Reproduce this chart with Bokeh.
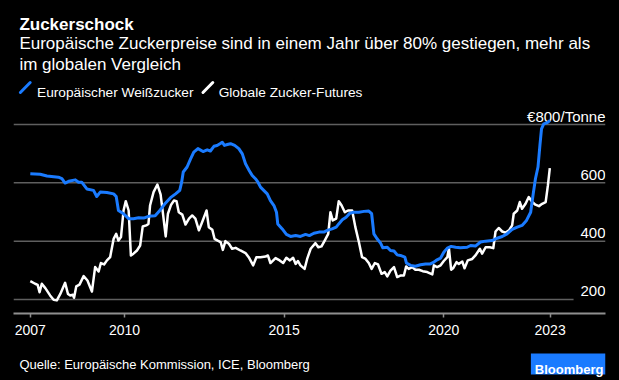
from bokeh.plotting import figure
from bokeh.layouts import column
from bokeh.models import Range1d, FixedTicker
from bokeh.core.properties import value
from bokeh.embed import file_html
from bokeh.resources import INLINE

# ---------------- data ----------------
title = "Zuckerschock"
subtitle = ["Europäische Zuckerpreise sind in einem Jahr über 80% gestiegen, mehr als",
            "im globalen Vergleich"]
legend_labels = ["Europäischer Weißzucker", "Globale Zucker-Futures"]
source_text = "Quelle: Europäische Kommission, ICE, Bloomberg"
brand = "Bloomberg"

x_tick_labels = ["2007", "2010", "2015", "2020", "2023"]
x_mid_ticks = [2010, 2015, 2020]
y_ticks = [200, 400, 600, 800]
y_tick_labels = ["200", "400", "600", "€800/Tonne"]

# European white sugar, EUR/t (decimal years)
eu_dates = [2007.05, 2007.36, 2007.57, 2007.93, 2008.04, 2008.14, 2008.25, 2008.46, 2008.56, 2008.66,
            2008.82, 2009.03, 2009.13, 2009.24, 2009.45, 2009.66, 2009.74, 2009.81, 2009.97, 2010.13,
            2010.28, 2010.44, 2010.60, 2010.75, 2010.96, 2011.12, 2011.28, 2011.44, 2011.60, 2011.73,
            2011.79, 2011.84, 2011.96, 2012.07, 2012.17, 2012.30, 2012.46, 2012.59, 2012.69, 2012.80,
            2012.90, 2012.99, 2013.06, 2013.13, 2013.22, 2013.32, 2013.45, 2013.58, 2013.69, 2013.79,
            2013.89, 2014.00, 2014.10, 2014.18, 2014.26, 2014.36, 2014.47, 2014.57, 2014.68, 2014.76,
            2014.80, 2014.94, 2015.07, 2015.20, 2015.36, 2015.51, 2015.67, 2015.79, 2015.93, 2016.09,
            2016.24, 2016.35, 2016.50, 2016.63, 2016.71, 2016.82, 2016.94, 2017.06, 2017.18, 2017.34,
            2017.50, 2017.65, 2017.74, 2017.81, 2017.91, 2018.02, 2018.09, 2018.23, 2018.33, 2018.44,
            2018.54, 2018.64, 2018.78, 2018.83, 2018.96, 2019.11, 2019.27, 2019.43, 2019.58, 2019.69,
            2019.79, 2019.90, 2020.00, 2020.11, 2020.23, 2020.37, 2020.52, 2020.73, 2020.84, 2020.99,
            2021.15, 2021.31, 2021.51, 2021.67, 2021.83, 2021.98, 2022.14, 2022.30, 2022.45, 2022.59,
            2022.72, 2022.80, 2022.87, 2022.95, 2023.01, 2023.06, 2023.13, 2023.24, 2023.33]
eu_price = [631, 629, 623, 619, 614, 599, 605, 610, 602, 602,
            579, 574, 553, 568, 567, 562, 553, 505, 494, 477,
            477, 480, 479, 485, 487, 507, 530, 549, 562, 574,
            602, 637, 654, 682, 705, 717, 707, 713, 709, 725,
            728, 734, 739, 728, 731, 734, 728, 717, 699, 665,
            645, 625, 614, 602, 585, 574, 562, 539, 522, 499,
            459, 442, 423, 416, 419, 416, 423, 419, 427, 431,
            431, 437, 442, 448, 459, 473, 482, 496, 499, 499,
            502, 503, 494, 425, 408, 393, 377, 379, 368, 366,
            353, 351, 345, 325, 317, 314, 319, 322, 322, 328,
            336, 342, 362, 376, 382, 379, 377, 379, 385, 383,
            397, 400, 402, 410, 416, 425, 440, 448, 454, 471,
            499, 562, 614, 654, 728, 785, 802, 806, 814]

# Global sugar futures (converted), decimal years
world_dates = [2007.05, 2007.20, 2007.28, 2007.34, 2007.41, 2007.52, 2007.67, 2007.78, 2007.88, 2007.99,
               2008.14, 2008.23, 2008.30, 2008.38, 2008.42, 2008.49, 2008.59, 2008.72, 2008.84, 2008.98,
               2009.08, 2009.19, 2009.26, 2009.36, 2009.45, 2009.55, 2009.66, 2009.74, 2009.81, 2009.89,
               2009.97, 2010.04, 2010.13, 2010.20, 2010.28, 2010.39, 2010.49, 2010.57, 2010.68, 2010.75,
               2010.80, 2010.91, 2011.03, 2011.13, 2011.21, 2011.29, 2011.36, 2011.46, 2011.55, 2011.63,
               2011.70, 2011.81, 2011.91, 2012.02, 2012.12, 2012.22, 2012.33, 2012.43, 2012.57, 2012.64,
               2012.75, 2012.82, 2012.92, 2013.01, 2013.08, 2013.16, 2013.27, 2013.37, 2013.48, 2013.63,
               2013.79, 2013.89, 2014.03, 2014.13, 2014.26, 2014.42, 2014.49, 2014.57, 2014.73, 2014.86,
               2014.97, 2015.07, 2015.18, 2015.28, 2015.36, 2015.43, 2015.51, 2015.64, 2015.72, 2015.83,
               2015.98, 2016.07, 2016.17, 2016.27, 2016.38, 2016.45, 2016.52, 2016.63, 2016.71, 2016.80,
               2016.90, 2017.00, 2017.13, 2017.23, 2017.34, 2017.44, 2017.55, 2017.65, 2017.74, 2017.84,
               2017.94, 2018.05, 2018.15, 2018.23, 2018.33, 2018.44, 2018.54, 2018.64, 2018.75, 2018.82,
               2018.90, 2019.01, 2019.11, 2019.22, 2019.34, 2019.48, 2019.64, 2019.69, 2019.79, 2019.90,
               2020.00, 2020.11, 2020.16, 2020.23, 2020.29, 2020.40, 2020.47, 2020.58, 2020.65, 2020.75,
               2020.89, 2020.99, 2021.13, 2021.20, 2021.31, 2021.44, 2021.55, 2021.62, 2021.72, 2021.83,
               2021.93, 2022.04, 2022.14, 2022.19, 2022.30, 2022.38, 2022.45, 2022.56, 2022.66, 2022.77,
               2022.87, 2022.98, 2023.08, 2023.19, 2023.26, 2023.32]
world_price = [263, 254, 250, 225, 254, 239, 214, 199, 197, 219,
               257, 219, 214, 216, 206, 245, 251, 280, 265, 227,
               311, 296, 325, 320, 334, 345, 408, 425, 402, 414,
               505, 537, 505, 351, 357, 368, 385, 450, 454, 459,
               522, 568, 594, 560, 490, 416, 494, 525, 539, 537,
               499, 491, 457, 477, 488, 477, 437, 465, 505, 448,
               439, 408, 402, 397, 370, 400, 391, 374, 377, 368,
               359, 345, 317, 345, 345, 347, 351, 325, 342, 334,
               325, 343, 334, 343, 322, 332, 317, 305, 339, 374,
               393, 379, 382, 402, 425, 499, 471, 477, 537, 522,
               499, 505, 505, 448, 397, 345, 339, 325, 305, 325,
               320, 288, 294, 279, 299, 311, 277, 282, 282, 313,
               305, 311, 302, 302, 297, 294, 286, 317, 311, 317,
               332, 345, 375, 302, 307, 328, 322, 330, 307, 334,
               339, 351, 374, 357, 379, 379, 376, 433, 445, 433,
               429, 437, 454, 494, 505, 534, 511, 528, 551, 534,
               525, 520, 528, 534, 591, 650]

# ---------------- styling ----------------
FONT = value("Liberation Sans")
BG = "#000000"
BLUE = "#1a7bff"
WHITE = "#ffffff"
GRID = "#5f5f5f"
AXIS = "#8f8f8f"
W = 603


def panel(h):
    f = figure(width=W, height=h, x_range=Range1d(0, W), y_range=Range1d(h, 0),
               output_backend="svg", toolbar_location=None,
               x_axis_location=None, y_axis_location=None, min_border=0,
               background_fill_color=BG, border_fill_color=BG, outline_line_color=None)
    f.grid.visible = False
    return f


# ---------------- header ----------------
header = panel(92)
header.text(x=[6], y=[15.5], text=[title], text_font=FONT, text_font_size="17px",
            text_font_style="bold", text_color=WHITE, text_baseline="alphabetic")
header.text(x=[6, 6], y=[35, 55.5], text=subtitle, text_font=FONT, text_font_size="17px",
            text_color=WHITE, text_baseline="alphabetic")
header.segment(x0=[7, 193], y0=[84, 84], x1=[17, 203], y1=[74, 74],
               line_color=[BLUE, WHITE], line_width=3, line_cap="round")
header.text(x=[24, 209], y=[84, 84], text=legend_labels, text_font=FONT,
            text_font_size="13.7px", text_color=WHITE, text_baseline="alphabetic")

# ---------------- main chart ----------------
x_start, x_end = 2006.5236, 2025.064
main = figure(width=W, height=248, x_range=Range1d(x_start, x_end), y_range=Range1d(152, 882),
              output_backend="svg", toolbar_location=None, y_axis_location=None,
              min_border_left=5, min_border_right=6, min_border_top=0, min_border_bottom=35,
              background_fill_color=BG, border_fill_color=BG, outline_line_color=None)
main.grid.visible = False

grid_end = [x_end - 1.0] + [x_end] * (len(y_ticks) - 1)
main.segment(x0=[x_start] * len(y_ticks), x1=grid_end, y0=y_ticks, y1=y_ticks,
             line_color=GRID, line_width=1.5)
main.text(x=[x_end] * len(y_ticks), y=y_ticks, text=y_tick_labels, text_font=FONT,
          text_font_size="15px", text_color=WHITE, text_align="right",
          text_baseline="alphabetic", y_offset=-8)

main.line(world_dates, world_price, line_color=WHITE, line_width=2.5, line_join="round")
main.line(eu_dates, eu_price, line_color=BLUE, line_width=3, line_join="round")

ticks = [eu_dates[0]] + x_mid_ticks + [eu_dates[-1]]
ax = main.xaxis[0]
ax.ticker = FixedTicker(ticks=ticks, minor_ticks=[])
ax.major_label_overrides = {t: lab for t, lab in zip(ticks, x_tick_labels)}
ax.axis_line_color = AXIS
ax.axis_line_width = 2
ax.major_tick_line_color = AXIS
ax.major_tick_line_width = 1.5
ax.major_tick_in = 0
ax.major_tick_out = 4
ax.minor_tick_line_color = None
ax.major_label_standoff = 7
ax.major_label_text_color = WHITE
ax.major_label_text_font = "Liberation Sans"
ax.major_label_text_font_size = "14px"

# ---------------- footer ----------------
footer = panel(32)
footer.text(x=[6], y=[16], text=[source_text], text_font=FONT, text_font_size="13px",
            text_color=WHITE, text_baseline="alphabetic")
footer.quad(left=[527], right=[603], top=[5], bottom=[26], fill_color=BLUE, line_color=None)
footer.text(x=[566], y=[21], text=[brand], text_font=FONT, text_font_size="13px",
            text_font_style="bold", text_color=WHITE, text_align="center",
            text_baseline="alphabetic")

layout = column(header, main, footer, spacing=0)
html = file_html(layout, INLINE, title="Zuckerschock")
html = html.replace("</head>",
                    "<style>html,body{background:#000000 !important;overflow:hidden;}"
                    "body{padding:8px 8px 0 8px !important;margin:0 !important;}</style></head>", 1)
open("out.html", "w").write(html)
